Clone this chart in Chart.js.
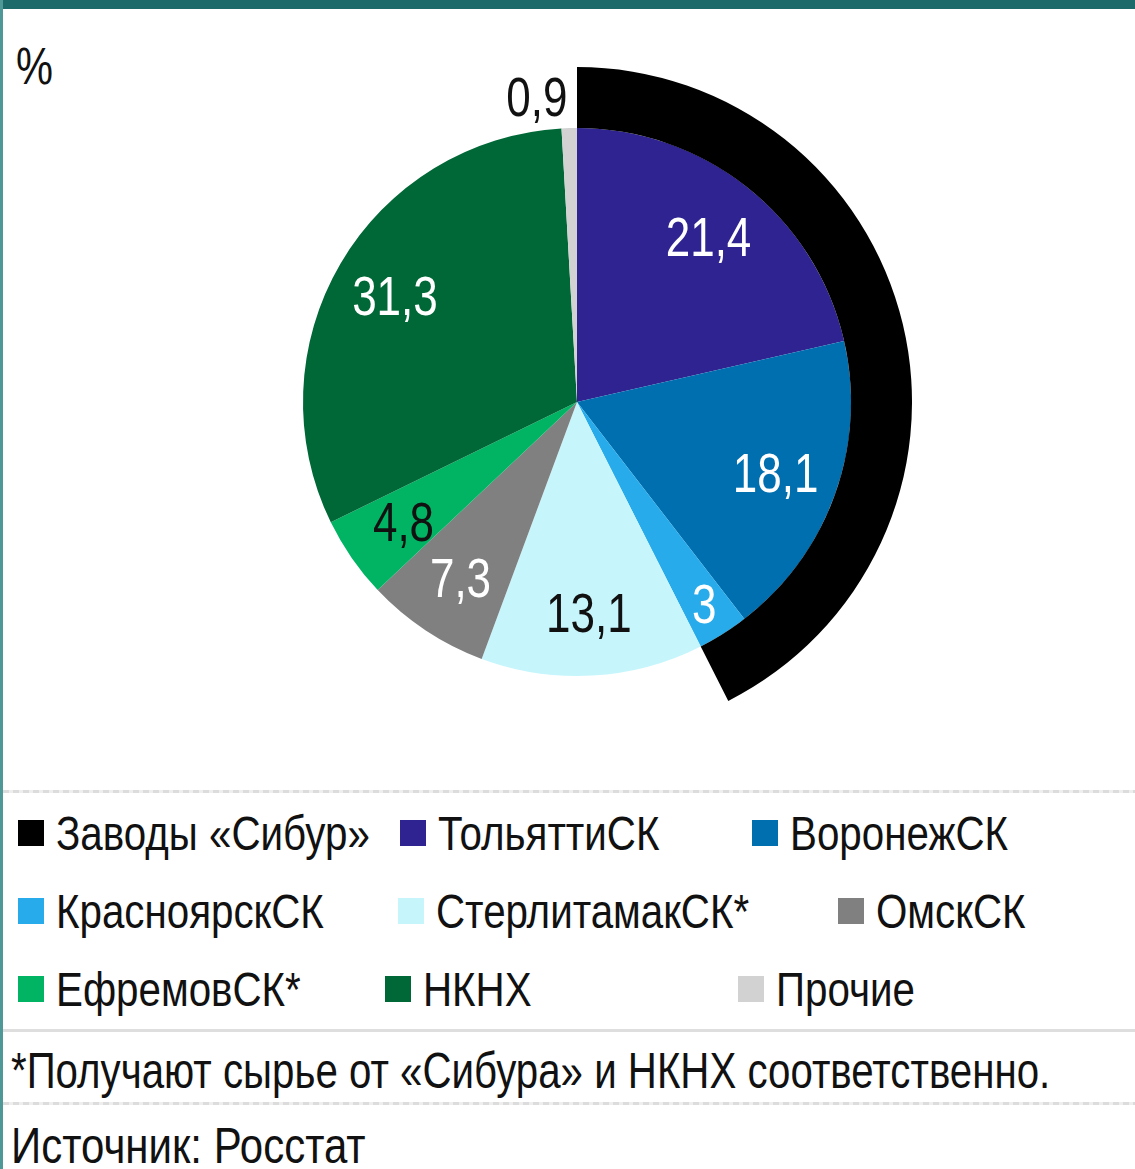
<!DOCTYPE html>
<html lang="ru">
<head>
<meta charset="utf-8">
<script src="https://cdn.jsdelivr.net/npm/chart.js@4.4.1/dist/chart.umd.min.js"></script>
<style>
    html, body { margin: 0; padding: 0; background: #fff; }
    body {
        width: 1135px; height: 1169px; position: relative; overflow: hidden;
        font-family: "Liberation Sans", Arial, sans-serif;
        color: #111;
    }
    .topbar { position: absolute; left: 0; top: 0; width: 1135px; height: 9px; background: #1c6a6a; }
    .leftbar { position: absolute; left: 0; top: 0; width: 3px; height: 1169px; background: #4f9898; }
    .narrow { display: inline-block; transform: scaleX(0.84); transform-origin: 0 50%; white-space: nowrap; }
    .unit { position: absolute; left: 16px; top: 40px; font-size: 52px; line-height: 1; }
    #chartBox { position: absolute; left: 242px; top: 67px; width: 670px; height: 670px; }
    .sep { position: absolute; left: 3px; right: 0; height: 3px; }
    .sep.dots { background: repeating-linear-gradient(90deg, #dcdcdc 0 6px, #eeeeee 6px 10px); }
    .sep.solid { background: #dedede; }
    .legend-item { position: absolute; height: 50px; display: flex; align-items: center; font-size: 48px; white-space: nowrap; }
    .legend-item .sw { width: 26px; height: 26px; margin-right: 12px; flex: none; }
    .note { position: absolute; left: 11px; font-size: 50px; line-height: 1; white-space: nowrap; }
</style>
</head>
<body>
<div class="topbar"></div>
<div class="leftbar"></div>
<div class="unit"><span class="narrow" style="transform: scaleX(0.8);">%</span></div>
<div id="chartBox"><canvas id="shareChart" width="670" height="670"></canvas></div>

<div class="sep dots" style="top: 790px;"></div>
<div id="legend"></div>
<div class="sep solid" style="top: 1029px;"></div>
<div class="note" style="top: 1046px;"><span class="narrow" style="transform: scaleX(0.805);">*Получают сырье от «Сибура» и НКНХ соответственно.</span></div>
<div class="sep dots" style="top: 1102px;"></div>
<div class="note" style="top: 1121px;"><span class="narrow">Источник: Росстат</span></div>

<script>
    // Producers, clockwise from 12 o'clock
    const producers = ['ТольяттиСК', 'ВоронежСК', 'КрасноярскСК', 'СтерлитамакСК*', 'ОмскСК', 'ЕфремовСК*', 'НКНХ', 'Прочие'];
    const shares = [21.4, 18.1, 3, 13.1, 7.3, 4.8, 31.3, 0.9];
    const sliceColors = ['#2e2390', '#006fb0', '#27abea', '#c6f6fc', '#808080', '#00b464', '#006837', '#d2d2d2'];
    const labelColors = ['#fff', '#fff', '#fff', '#111', '#fff', '#111', '#fff', '#111'];

    // Outer ring: plants of Sibur (first three producers)
    const siburName = 'Заводы «Сибур»';
    const siburMembers = ['ТольяттиСК', 'ВоронежСК', 'КрасноярскСК'];
    const siburColor = '#000000';

    const siburTotal = shares.filter((v, i) => siburMembers.includes(producers[i])).reduce((a, b) => a + b, 0);
    const restTotal = shares.reduce((a, b) => a + b, 0) - siburTotal;

    const fmt = v => String(v).replace('.', ',');

    // slice value labels, condensed like the original typeface
    const sliceLabels = {
        id: 'sliceLabels',
        afterDatasetsDraw(chart) {
            const ctx = chart.ctx;
            const meta = chart.getDatasetMeta(1);
            ctx.save();
            ctx.font = '55px "Liberation Sans", Arial, sans-serif';
            ctx.textBaseline = 'middle';
            meta.data.forEach((arc, i) => {
                const v = shares[i];
                const mid = (arc.startAngle + arc.endAngle) / 2;
                let r, align = 'center';
                if (v < 2) { r = arc.outerRadius + 31; align = 'right'; }
                else if (v < 4) { r = arc.outerRadius * 0.87; }
                else { r = arc.outerRadius * 0.77; }
                let x = arc.x + Math.cos(mid) * r;
                const y = arc.y + Math.sin(mid) * r + 4;
                if (align === 'right') x -= 1;
                ctx.save();
                ctx.translate(x, y);
                ctx.scale(0.8, 1);
                ctx.textAlign = align;
                ctx.fillStyle = labelColors[i];
                ctx.fillText(fmt(v), 0, 0);
                ctx.restore();
            });
            ctx.restore();
        }
    };

    const ctx = document.getElementById('shareChart').getContext('2d');
    new Chart(ctx, {
        type: 'doughnut',
        data: {
            labels: producers,
            datasets: [{
                label: siburName,
                data: [siburTotal, restTotal],
                backgroundColor: [siburColor, 'rgba(0,0,0,0)'],
                borderWidth: 0,
                weight: 61
            }, {
                label: '%',
                data: shares,
                backgroundColor: sliceColors,
                borderWidth: 0,
                weight: 274
            }]
        },
        options: {
            responsive: false,
            devicePixelRatio: 1,
            animation: false,
            cutout: 0,
            rotation: 0,
            hoverOffset: 0,
            layout: { padding: 0 },
            plugins: {
                legend: { display: false },
                tooltip: { enabled: false }
            }
        },
        plugins: [sliceLabels]
    });

    // legend: three rows as in the original layout
    const legendNames = [siburName].concat(producers);
    const legendColors = [siburColor].concat(sliceColors);
    const legendSlots = [
        [18, 808], [400, 808], [752, 808],
        [18, 886], [398, 886], [838, 886],
        [18, 964], [385, 964], [738, 964]
    ];
    const legend = document.getElementById('legend');
    legendNames.forEach((name, i) => {
        const item = document.createElement('div');
        item.className = 'legend-item';
        item.style.left = legendSlots[i][0] + 'px';
        item.style.top = legendSlots[i][1] + 'px';
        item.innerHTML = '<span class="sw" style="background:' + legendColors[i] + '"></span><span class="narrow">' + name + '</span>';
        legend.appendChild(item);
    });
</script>
</body>
</html>
